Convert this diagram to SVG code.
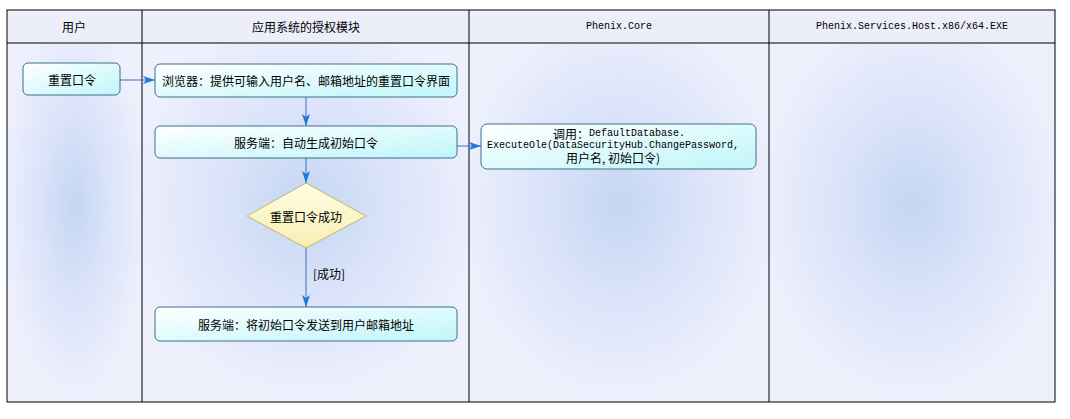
<svg xmlns="http://www.w3.org/2000/svg" width="1070" height="419" viewBox="0 0 1070 419">
<defs>
<radialGradient id="laneG" cx="0.5" cy="0.45" r="0.55">
<stop offset="0" stop-color="#C4D6F2"/>
<stop offset="0.5" stop-color="#DCE4FA"/>
<stop offset="1" stop-color="#EEF0FC"/>
</radialGradient>
<linearGradient id="nodeG" x1="0" y1="0" x2="1" y2="1">
<stop offset="0" stop-color="#FFFFFF"/>
<stop offset="1" stop-color="#BFF6FA"/>
</linearGradient>
<linearGradient id="decG" x1="0" y1="0" x2="0" y2="1">
<stop offset="0" stop-color="#FFFFE6"/>
<stop offset="1" stop-color="#F6EEB0"/>
</linearGradient>
<marker id="arr" viewBox="0 0 12 8" refX="12" refY="4" markerWidth="12" markerHeight="8" markerUnits="userSpaceOnUse" orient="auto">
<path d="M0,0 L12,4 L0,8 L3,4 Z" fill="#1E78DC"/>
</marker>
<style>
.hdr{fill:#ECEEFA;stroke:none}
.lane{fill:url(#laneG);stroke:none}
.frame{fill:none;stroke:#000;stroke-width:1}
.node{fill:url(#nodeG);stroke:#3F6E8C;stroke-width:1}
.dec{fill:url(#decG);stroke:#C2B46A;stroke-width:1}
.t{font-family:"Noto Sans CJK SC","Liberation Sans",sans-serif;font-size:12px;fill:#000;text-anchor:middle;dominant-baseline:central}
.m{font-family:"Liberation Mono","Noto Sans CJK SC",monospace;font-size:10px;fill:#000;text-anchor:middle;dominant-baseline:central}
.c{fill:none;stroke:#3A6EB8;stroke-width:1;marker-end:url(#arr)}
</style>
</defs>
<rect width="1070" height="419" fill="#FFFFFF"/>
<g id="lanes">
<rect class="hdr" x="7" y="10" width="1048" height="33"/>
<rect class="lane" x="7" y="43" width="135" height="359"/>
<rect class="lane" x="142" y="43" width="327" height="359"/>
<rect class="lane" x="469" y="43" width="300" height="359"/>
<rect class="lane" x="769" y="43" width="286" height="359"/>
<rect class="frame" x="7" y="10" width="1048" height="392"/>
<line class="frame" x1="7" y1="43" x2="1055" y2="43"/>
<line class="frame" x1="142" y1="10" x2="142" y2="402"/>
<line class="frame" x1="469" y1="10" x2="469" y2="402"/>
<line class="frame" x1="769" y1="10" x2="769" y2="402"/>
<text class="t" x="74" y="26">用户</text>
<text class="t" x="306" y="26">应用系统的授权模块</text>
<text class="m" x="619" y="26">Phenix.Core</text>
<text class="m" x="912" y="26">Phenix.Services.Host.x86/x64.EXE</text>
</g>
<g id="connectors">
<line class="c" x1="120" y1="80" x2="155" y2="80"/>
<line class="c" x1="306" y1="97" x2="306" y2="126"/>
<line class="c" x1="457" y1="146" x2="481" y2="146"/>
<line class="c" x1="306" y1="158" x2="306" y2="183"/>
<line class="c" x1="306" y1="248" x2="306" y2="307"/>
<text class="t" x="329" y="273">[成功]</text>
</g>
<g id="n1">
<rect class="node" x="23" y="63" width="97" height="32" rx="5"/>
<text class="t" x="72" y="79">重置口令</text>
</g>
<g id="n2">
<rect class="node" x="155" y="64" width="302" height="33" rx="5"/>
<text class="t" x="306" y="80">浏览器：提供可输入用户名、邮箱地址的重置口令界面</text>
</g>
<g id="n3">
<rect class="node" x="155" y="126" width="302" height="32" rx="5"/>
<text class="t" x="306" y="142">服务端：自动生成初始口令</text>
</g>
<g id="n4">
<polygon class="dec" points="306,183 366,216 306,248 247,216"/>
<text class="t" x="306" y="216">重置口令成功</text>
</g>
<g id="n5">
<rect class="node" x="155" y="307" width="302" height="34" rx="5"/>
<text class="t" x="306" y="324">服务端：将初始口令发送到用户邮箱地址</text>
</g>
<g id="n6">
<rect class="node" x="481" y="124" width="275" height="45" rx="6"/>
<text class="m" x="619" y="133"><tspan style="font-family:'Noto Sans CJK SC',sans-serif;font-size:12px">调用：</tspan>DefaultDatabase.</text>
<text class="m" x="613" y="145">ExecuteOle(DataSecurityHub.ChangePassword,</text>
<text class="t" x="613" y="157">用户名, 初始口令)</text>
</g>
</svg>
